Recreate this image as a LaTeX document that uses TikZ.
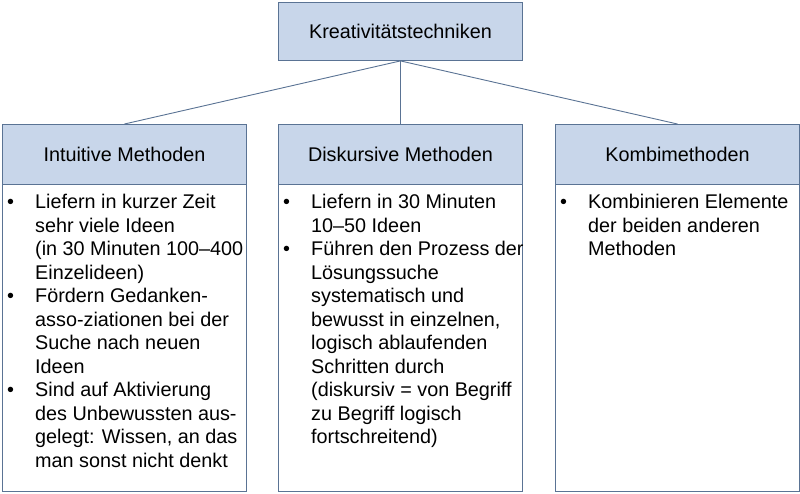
\documentclass[tikz,border=0pt]{standalone}
\usepackage{fontspec}
\setmainfont{Liberation Sans}
\usepackage{array}
\definecolor{hdr}{HTML}{C8D6EA}
\definecolor{brd}{HTML}{5A7394}
\tikzset{
 box/.style={draw=brd, line width=0.9pt, minimum width=244pt, minimum height=#1, inner sep=0pt, anchor=north west},
 hbox/.style={box=#1, fill=hdr},
 txt/.style={inner sep=0pt, anchor=north west, align=left},
 conn/.style={draw=brd, line width=0.9pt}
}
\newcommand{\bl}{\textbullet}
\begin{document}
\begin{tikzpicture}[x=1pt,y=-1pt,font=\fontsize{19.8}{23.5}\selectfont]
\useasboundingbox (0,0) rectangle (800,493);
\node[hbox=58pt] (top) at (278,2) {};
\node at (top.center) {Kreativitätstechniken};
\node[hbox=60pt] (h1) at (2,124) {}; \node at (h1.center) {Intuitive Methoden};
\node[hbox=60pt] (h2) at (278,124) {}; \node at (h2.center) {Diskursive Methoden};
\node[hbox=60pt] (h3) at (555,124) {}; \node at (h3.center) {Kombimethoden};
\node[box=307pt] (c1) at (2,184) {};
\node[box=307pt] (c2) at (278,184) {};
\node[box=307pt] (c3) at (555,184) {};
\draw[conn] (top.south) -- (h1.north);
\draw[conn] (top.south) -- (h2.north);
\draw[conn] (top.south) -- (h3.north);
\node[txt] (t1) at (7,192) {\begin{tabular}{@{}p{28pt}@{}l@{}}
\bl & Liefern in kurzer Zeit\\ & sehr viele Ideen\\ & (in 30 Minuten 100--400\\ & Einzelideen)\\
\bl & Fördern Gedanken-\\ & asso-ziationen bei der\\ & Suche nach neuen\\ & Ideen\\
\bl & Sind auf Aktivierung\\ & des Unbewussten aus-\\ & gelegt: Wissen, an das\\ & man sonst nicht denkt
\end{tabular}};
\node[txt] (t2) at (283,192) {\begin{tabular}{@{}p{28pt}@{}l@{}}
\bl & Liefern in 30 Minuten\\ & 10--50 Ideen\\
\bl & Führen den Prozess der\\ & Lösungssuche\\ & systematisch und\\ & bewusst in einzelnen,\\ & logisch ablaufenden\\ & Schritten durch\\ & (diskursiv = von Begriff\\ & zu Begriff logisch\\ & fortschreitend)
\end{tabular}};
\node[txt] (t3) at (560,192) {\begin{tabular}{@{}p{28pt}@{}l@{}}
\bl & Kombinieren Elemente\\ & der beiden anderen\\ & Methoden
\end{tabular}};
\end{tikzpicture}
\end{document}
